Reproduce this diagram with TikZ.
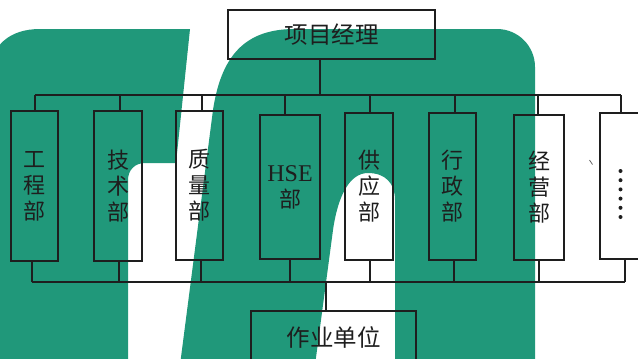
\documentclass[tikz,border=0pt]{standalone}
\usepackage{fontspec}
\newfontfamily\cjk{Noto Sans CJK SC}
\newfontfamily\latin{Liberation Serif}
\definecolor{logogreen}{RGB}{32,152,122}
\definecolor{ink}{RGB}{30,30,30}
\tikzset{
  frame/.style={draw=ink, line width=1.2pt, inner sep=0pt, align=center, text=ink,
    font=\cjk\fontsize{22}{26}\selectfont},
  bigtext/.style={font=\cjk\fontsize{23.5}{26}\selectfont},
  wire/.style={draw=ink, line width=1.2pt},
}
\begin{document}
\begin{tikzpicture}[x=1pt,y=-1pt]
\useasboundingbox (0,0) rectangle (638,359);
\clip (0,0) rectangle (638,359);
\fill[white] (0,0) rectangle (638,359);
% background logo: left block
\fill[logogreen] (-10,365) -- (-10,75) .. controls (-10,45) and (10,29) .. (40,29)
  -- (190,29) -- (176,163) -- (145,163) .. controls (135,163) and (128,170) .. (128,180)
  -- (128,365) -- cycle;
% background logo: arch
\fill[logogreen] (180,365) -- (213,110) .. controls (222,50) and (250,29) .. (295,29)
  -- (497,29) .. controls (518,29) and (535,46) .. (535,67) -- (535,365) -- (395,365)
  -- (395,200) .. controls (395,183) and (385,173) .. (368,173)
  .. controls (350,173) and (338,195) .. (333,230) -- (315,365) -- cycle;

% top node
\node[frame, bigtext, minimum width=207pt, minimum height=49pt] (pm) at (331.5,34.5) {项目经理};

% departments
\node[frame, minimum width=47pt, minimum height=150pt] (b1) at (34.5,186) {工\\程\\部};
\node[frame, minimum width=48pt, minimum height=150pt] (b2) at (118,186) {技\\术\\部};
\node[frame, minimum width=47pt, minimum height=149pt] (b3) at (199.5,185.5) {质\\量\\部};
\node[frame, minimum width=60pt, minimum height=144pt] (b4) at (290,187) {{\latin\fontsize{24}{26}\selectfont HSE}\\部};
\node[frame, minimum width=48pt, minimum height=147pt] (b5) at (369,186.5) {供\\应\\部};
\node[frame, minimum width=47pt, minimum height=147pt] (b6) at (452.5,186.5) {行\\政\\部};
\node[frame, minimum width=50pt, minimum height=145pt] (b7) at (539,187.5) {经\\营\\部};
\node[frame, minimum width=60pt, minimum height=146pt] (b8) at (630,186) {};
% vertical ellipsis in the last box
\foreach \y in {171,180.2,189.4,198.6,207.8,217}
  \fill[ink] (620.5,\y) circle (2pt);

% bottom node
\node[frame, bigtext, minimum width=165pt, minimum height=52pt] (unit) at (333.5,337) {作业单位};

% upper bus
\coordinate (tl) at (35,95);
\coordinate (tr) at (621,95);
\coordinate (pmx) at (320,95);
\draw[wire] (tl) -- (tr);
\draw[wire] (pm.south -| pmx) -- (pmx);
\foreach \n/\x in {b1/35, b2/120, b3/202, b4/285, b5/370, b6/455, b7/538, b8/621}
  \draw[wire] (\x,95) -- (\x,95 |- \n.north);

% lower bus
\coordinate (bl) at (32,282);
\coordinate (br) at (625,282);
\coordinate (ux) at (326,282);
\draw[wire] (bl) -- (br);
\foreach \n/\x in {b1/32, b2/119, b3/201, b4/290, b5/370, b6/454, b7/539, b8/625}
  \draw[wire] (\x,282) -- (\x,282 |- \n.south);
\draw[wire] (ux) -- (ux |- unit.north);

% small stray stroke
\draw[ink!70, line width=0.8pt] (589.5,160) -- (592.5,164.5);
\end{tikzpicture}
\end{document}
